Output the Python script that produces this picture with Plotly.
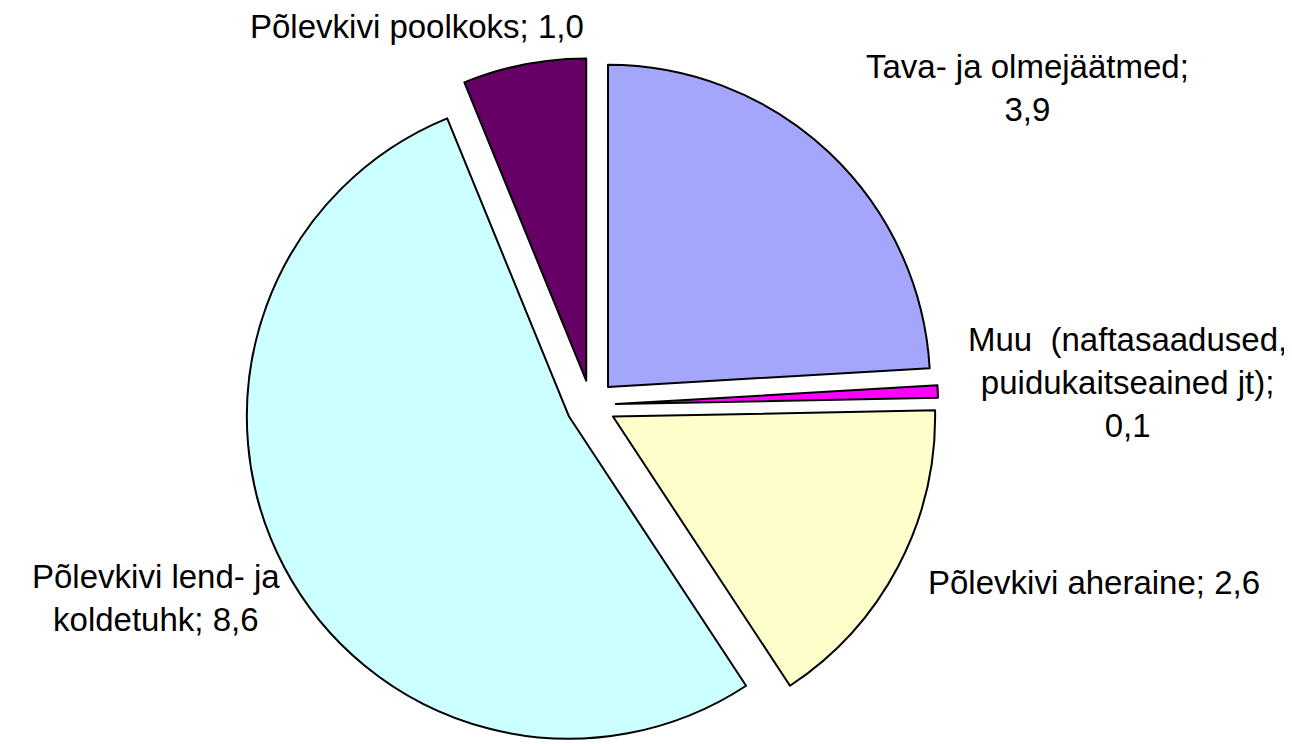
import plotly.graph_objects as go

# jäätmed, mln t
labels = ['Tava- ja olmejäätmed', 'Muu  (naftasaadused, puidukaitseained jt)',
          'Põlevkivi aheraine', 'Põlevkivi lend- ja koldetuhk', 'Põlevkivi poolkoks']
values = [3.9, 0.1, 2.6, 8.6, 1.0]
label_texts = ['Tava- ja olmejäätmed;<br>3,9',
               'Muu  (naftasaadused,<br>puidukaitseained jt);<br>0,1',
               'Põlevkivi aheraine; 2,6',
               'Põlevkivi lend- ja<br>koldetuhk; 8,6',
               'Põlevkivi poolkoks; 1,0']
colors = ['#A3A6FB', '#FF00FF', '#FFFFCC', '#CCFFFF', '#660066']

W, H = 1292, 744
# pie placement (pixels)
cx, R = 583, 347

fig = go.Figure()
fig.add_trace(go.Pie(
    labels=labels,
    values=values,
    sort=False,
    direction='clockwise',
    rotation=0,
    pull=0.077,
    textinfo='none',
    hoverinfo='label+value',
    marker=dict(colors=colors, line=dict(color='black', width=2)),
    domain=dict(x=[(cx - R) / W, (cx + R) / W], y=[0, 2 * R / H]),
    showlegend=False,
))

# label positions (pixels, centre of text block)
label_pos = [(1019, 80), (1119, 374), (1086, 574), (148, 590), (409, 19)]
for txt, (px, py) in zip(label_texts, label_pos):
    fig.add_annotation(
        text=txt, x=px / W, y=1 - py / H, xref='paper', yref='paper',
        xanchor='center', yanchor='middle', align='center', showarrow=False,
        borderpad=0,
        font=dict(family='Liberation Sans, Arial', size=33, color='black'),
    )

fig.update_layout(
    width=W, height=H,
    margin=dict(l=0, r=0, t=0, b=0),
    paper_bgcolor='white',
    plot_bgcolor='white',
)

fig.write_html('out.html')
